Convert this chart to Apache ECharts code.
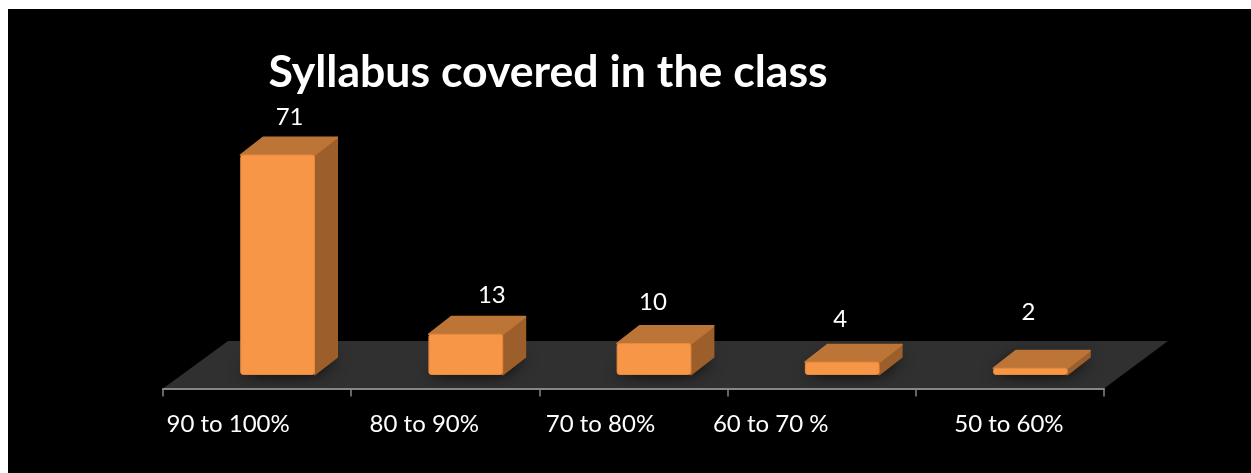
<!DOCTYPE html>
<html><head><meta charset="utf-8">
<style>html,body{margin:0;padding:0;background:#fff}#c{width:1251px;height:473px}</style>
<script src="https://cdn.jsdelivr.net/npm/echarts@6/dist/echarts.min.js"></script>
</head><body><div id="c"></div>
<script>
const categories = ['90 to 100%','80 to 90%','70 to 80%','60 to 70 %','50 to 60%'];
const values = [71,13,10,4,2];
const titleText = 'Syllabus covered in the class';
// hand placement of the source's text, relative to the automatic position
const tickLabelShift = [29,21,33,51,1];
const valueLabelDx = [12,26,-1,-2,-2];
const valueLabelDy = [-20,-22,-24,-25,-39];

const FRONT='#F79646', TOP='#BD7537', SIDE='#9C5F2B', FLOOR='#303030';
const DX=22.5, DY=-17.5, AXIS_DROP=14, FLOOR_BACK=33.5, FLOOR_SKEW=65;

const rich={};
tickLabelShift.forEach((s,i)=>{rich['c'+i]={padding:[0,s*2,0,0],fontFamily:'Lato',fontSize:24,color:'#fff'};});

function floorItem(params,api){
  const g=params.coordSys, y0=g.y+g.height+AXIS_DROP, y1=g.y+g.height-FLOOR_BACK;
  return {type:'polygon',shape:{points:[[g.x,y0],[g.x+g.width,y0],[g.x+g.width+FLOOR_SKEW-1,y1],[g.x+FLOOR_SKEW,y1]]},
    style:{fill:FLOOR},silent:true};
}
function barItem(params,api){
  const i=api.value(0), v=api.value(1);
  const band=api.size([1,0])[0], w=band*0.392, c=api.coord([i,v]), b=api.coord([i,0]);
  const x=c[0]-w/2+band*0.109, top=c[1], base=b[1];
  const poly=(pts,fill)=>({type:'polygon',shape:{points:pts},style:{fill,lineJoin:'round',stroke:fill,lineWidth:2}});
  return {type:'group',children:[
    {type:'polygon',shape:{points:[[x,base],[x+w,base],[x+w+DX,base+DY],[x+DX,base+DY]]},
      style:{fill:'#1c1c1c',shadowBlur:16,shadowColor:'rgba(0,0,0,0.9)'}},
    poly([[x+w,top],[x+w+DX,top+DY],[x+w+DX,base+DY],[x+w,base]],SIDE),
    poly([[x,top],[x+DX,top+DY],[x+w+DX,top+DY],[x+w,top]],TOP),
    {type:'rect',shape:{x:x,y:top,width:w,height:base-top,r:2.5},
      style:{fill:FRONT,stroke:'#E88A3E',lineWidth:1}},
    {type:'text',style:{text:String(v),x:x+w/2+valueLabelDx[i],y:top+DY+valueLabelDy[i],
      fill:'#fff',font:'24px Lato',align:'center',verticalAlign:'middle'}}
  ]};
}
const chart=echarts.init(document.getElementById('c'),null,{renderer:'canvas'});
chart.setOption({
  animation:false,
  backgroundColor:'#fff',
  graphic:[{type:'rect',z:-10,shape:{x:8,y:9,width:1243,height:464},style:{fill:'#000'}}],
  title:{text:titleText,left:543,top:45,textAlign:'center',
    textStyle:{color:'#fff',fontFamily:'Lato',fontWeight:'bold',fontSize:44.6}},
  grid:{left:163,width:941,top:127.2,height:247.3},
  xAxis:{type:'category',data:categories,offset:AXIS_DROP,boundaryGap:true,z:5,
    axisLine:{onZero:false,lineStyle:{color:'#868686',width:2}},
    axisTick:{show:true,alignWithLabel:false,length:8,lineStyle:{color:'#868686',width:1.5}},
    axisLabel:{interval:0,margin:24,color:'#fff',fontFamily:'Lato',fontSize:24,
      formatter:(v,i)=>`{c${i}|${v}}`,rich}},
  yAxis:{type:'value',min:0,max:80,show:false,splitLine:{show:false}},
  series:[
    {type:'custom',z:1,renderItem:floorItem,data:[[0,0]],silent:true,clip:false},
    {type:'custom',z:2,renderItem:barItem,data:values.map((v,i)=>[i,v]),encode:{x:0,y:1},clip:false}
  ]
});
</script></body></html>
